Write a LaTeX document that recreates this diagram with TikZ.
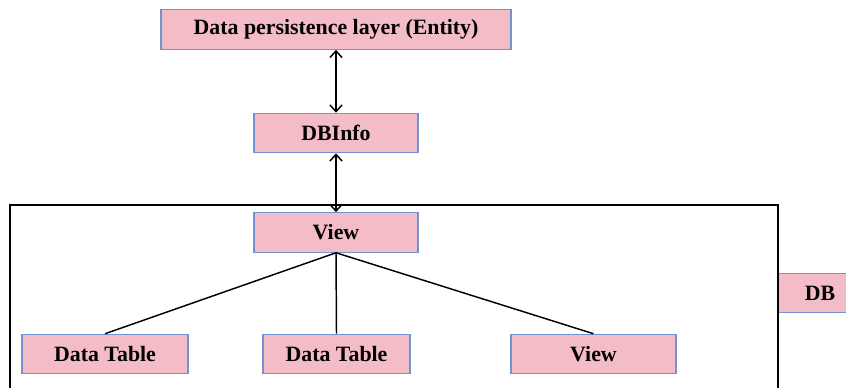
\documentclass[tikz,border=0pt]{standalone}
\usepackage{fontspec}
\setmainfont{Liberation Serif}
\usetikzlibrary{arrows.meta}
\definecolor{boxfill}{RGB}{244,188,198}
\definecolor{boxline}{RGB}{112,148,208}
\tikzset{box/.style={rectangle,draw=boxline,fill=boxfill,line width=0.9pt,align=center,inner sep=0pt,minimum height=29.5pt,font=\fontsize{16.4}{19}\selectfont\bfseries},line/.style={{Straight Barb[length=5pt,width=9pt]}-{Straight Barb[length=5pt,width=9pt]},line width=1.1pt},link/.style={line width=1.1pt}}

\begin{document}
\begin{tikzpicture}[x=0.75pt,y=-0.75pt]
\useasboundingbox (0,0) rectangle (846,388);
\node[box, minimum width=262.5pt] (entity) at (336,29.5) {Data persistence layer (Entity)};
\node[box, minimum width=123pt] (info) at (336,133) {DBInfo};
\node[box, minimum width=123pt] (view) at (336,232.5) {View};
\node[box, minimum width=124.5pt] (tabA) at (105,354) {Data Table};
\node[box, minimum width=110.25pt] (tabB) at (336.5,354) {Data Table};
\node[box, minimum width=123.75pt] (viewB) at (593.5,354) {View};
\node[box, minimum width=63pt] (db) at (820,293) {DB};
% frame of the database
\draw[line width=1.1pt] (10,392) -- (10,205) -- (778,205) -- (778,392);
\draw[line] (entity) -- (info);
\draw[line] (info) -- (view);
\draw[link] (view.south) -- (tabA.north);
\draw[link] (view.south) -- (tabB.north);
\draw[link] (view.south) -- (viewB.north);
\end{tikzpicture}
\end{document}
